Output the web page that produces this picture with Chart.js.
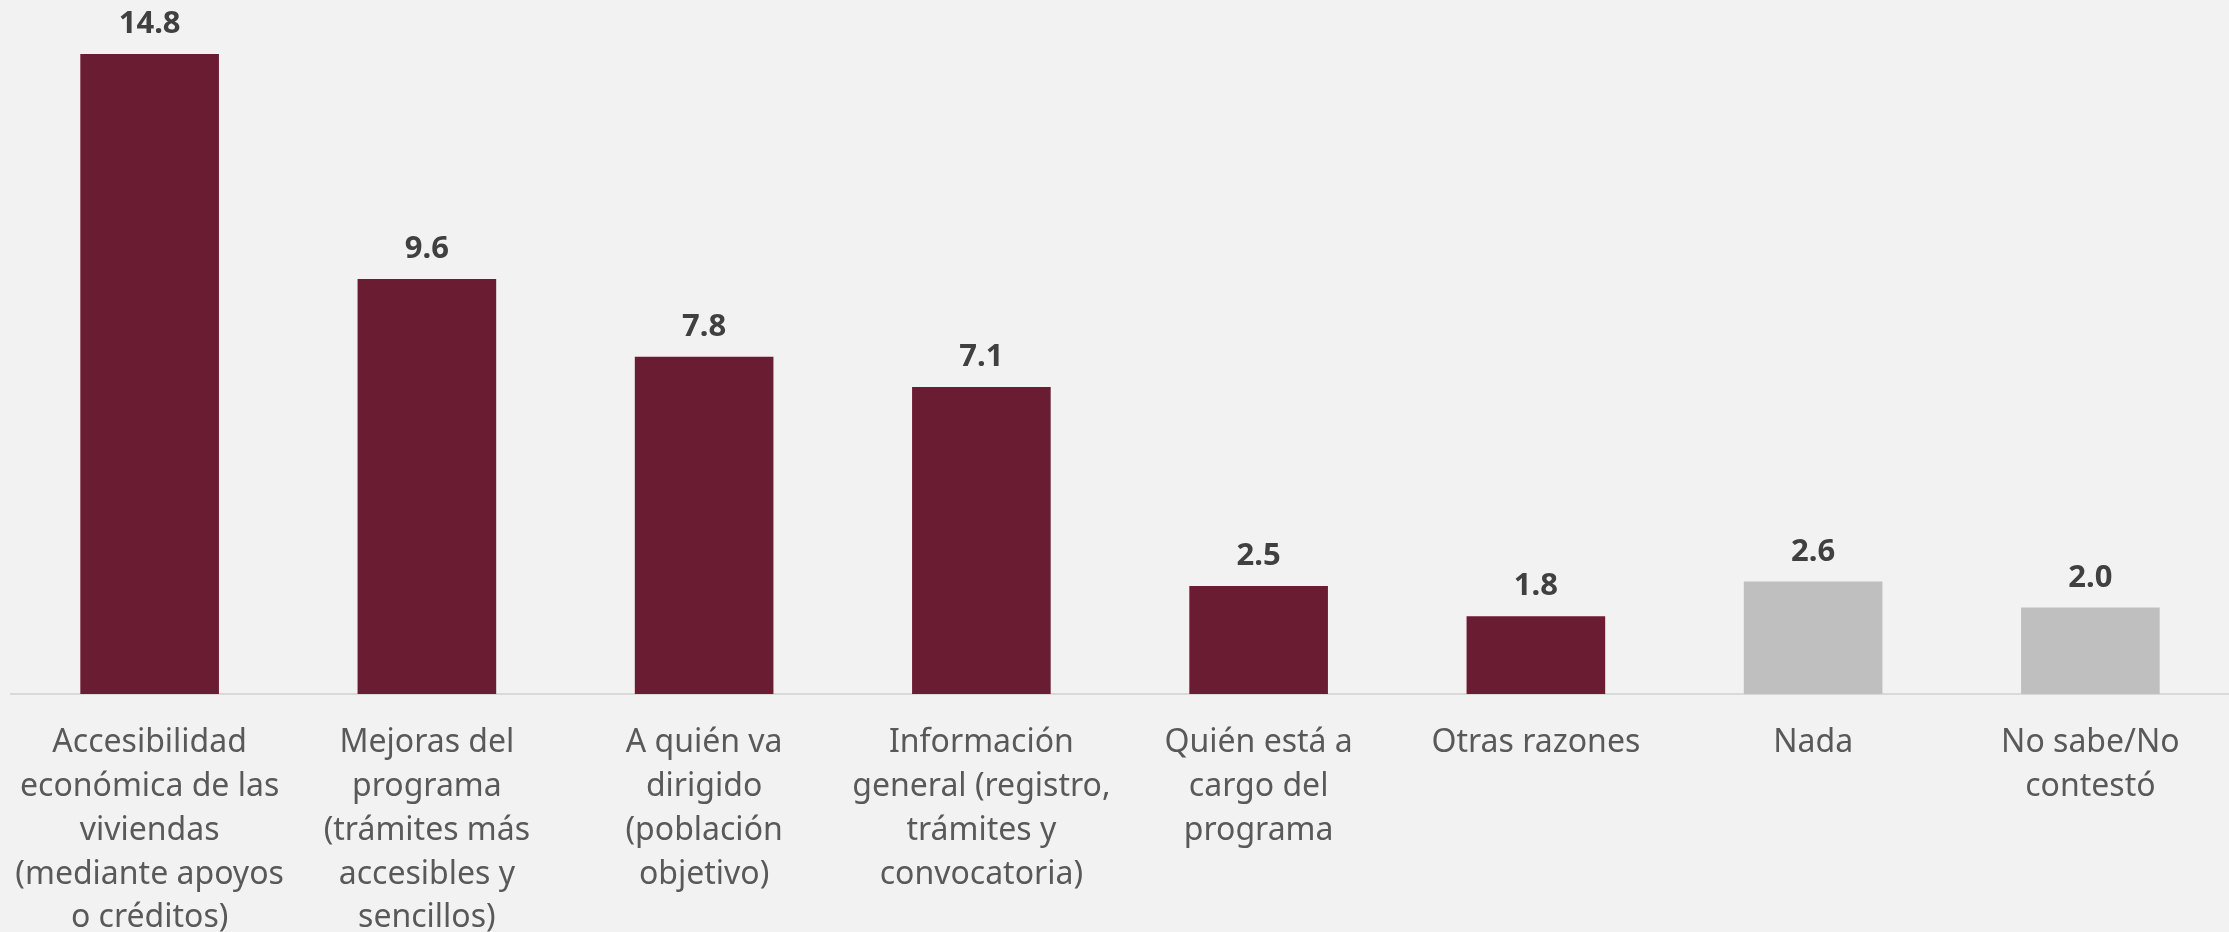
<!DOCTYPE html>
<html>
<head>
<meta charset="utf-8">
<script src="https://cdn.jsdelivr.net/npm/chart.js@4"></script>
<style>
  html, body { margin: 0; padding: 0; background: #f2f2f2; }
  #wrap { width: 2229px; height: 932px; position: relative; }
</style>
</head>
<body>
<div id="wrap"><canvas id="c" width="2229" height="932"></canvas></div>
<script>
const categories = [
  ["Accesibilidad", "económica de las", "viviendas", "(mediante apoyos", "o créditos)"],
  ["Mejoras del", "programa", "(trámites más", "accesibles y", "sencillos)"],
  ["A quién va", "dirigido", "(población", "objetivo)"],
  ["Información", "general (registro,", "trámites y", "convocatoria)"],
  ["Quién está a", "cargo del", "programa"],
  ["Otras razones"],
  ["Nada"],
  ["No sabe/No", "contestó"]
];
const values = [14.8, 9.6, 7.8, 7.1, 2.5, 1.8, 2.6, 2.0];
const barColors = ["#691C32", "#691C32", "#691C32", "#691C32", "#691C32", "#691C32", "#BFBFBF", "#BFBFBF"];
const yMax = 16.05;

const valueLabels = {
  id: 'valueLabels',
  afterDatasetsDraw(chart) {
    const ctx = chart.ctx;
    const meta = chart.getDatasetMeta(0);
    ctx.save();
    ctx.font = 'bold 31px "Noto Sans"';
    ctx.fillStyle = '#404040';
    ctx.textAlign = 'center';
    ctx.textBaseline = 'bottom';
    meta.data.forEach((bar, i) => {
      ctx.fillText(values[i].toFixed(1), bar.x, bar.y - 14);
    });
    ctx.restore();
  }
};

new Chart(document.getElementById('c'), {
  type: 'bar',
  data: {
    labels: categories,
    datasets: [{
      data: values,
      backgroundColor: barColors,
      borderWidth: 0,
      barPercentage: 0.5,
      categoryPercentage: 1.0
    }]
  },
  options: {
    responsive: false,
    animation: false,
    layout: { padding: { left: 11, right: 0, top: 0, bottom: 0 } },
    plugins: { legend: { display: false }, tooltip: { enabled: false } },
    scales: {
      x: {
        grid: { display: false, drawTicks: false },
        border: { display: true, color: '#d9d9d9', width: 2 },
        ticks: {
          color: '#595959',
          font: { family: '"Noto Sans"', size: 32, lineHeight: 1.37 },
          padding: 27,
          maxRotation: 0,
          autoSkip: false
        },
        afterFit(scale) {
          scale.height = 238;
          scale.paddingLeft = 0;
          scale.paddingRight = 0;
        }
      },
      y: {
        display: false,
        min: 0,
        max: yMax
      }
    }
  },
  plugins: [valueLabels]
});
</script>
</body>
</html>
